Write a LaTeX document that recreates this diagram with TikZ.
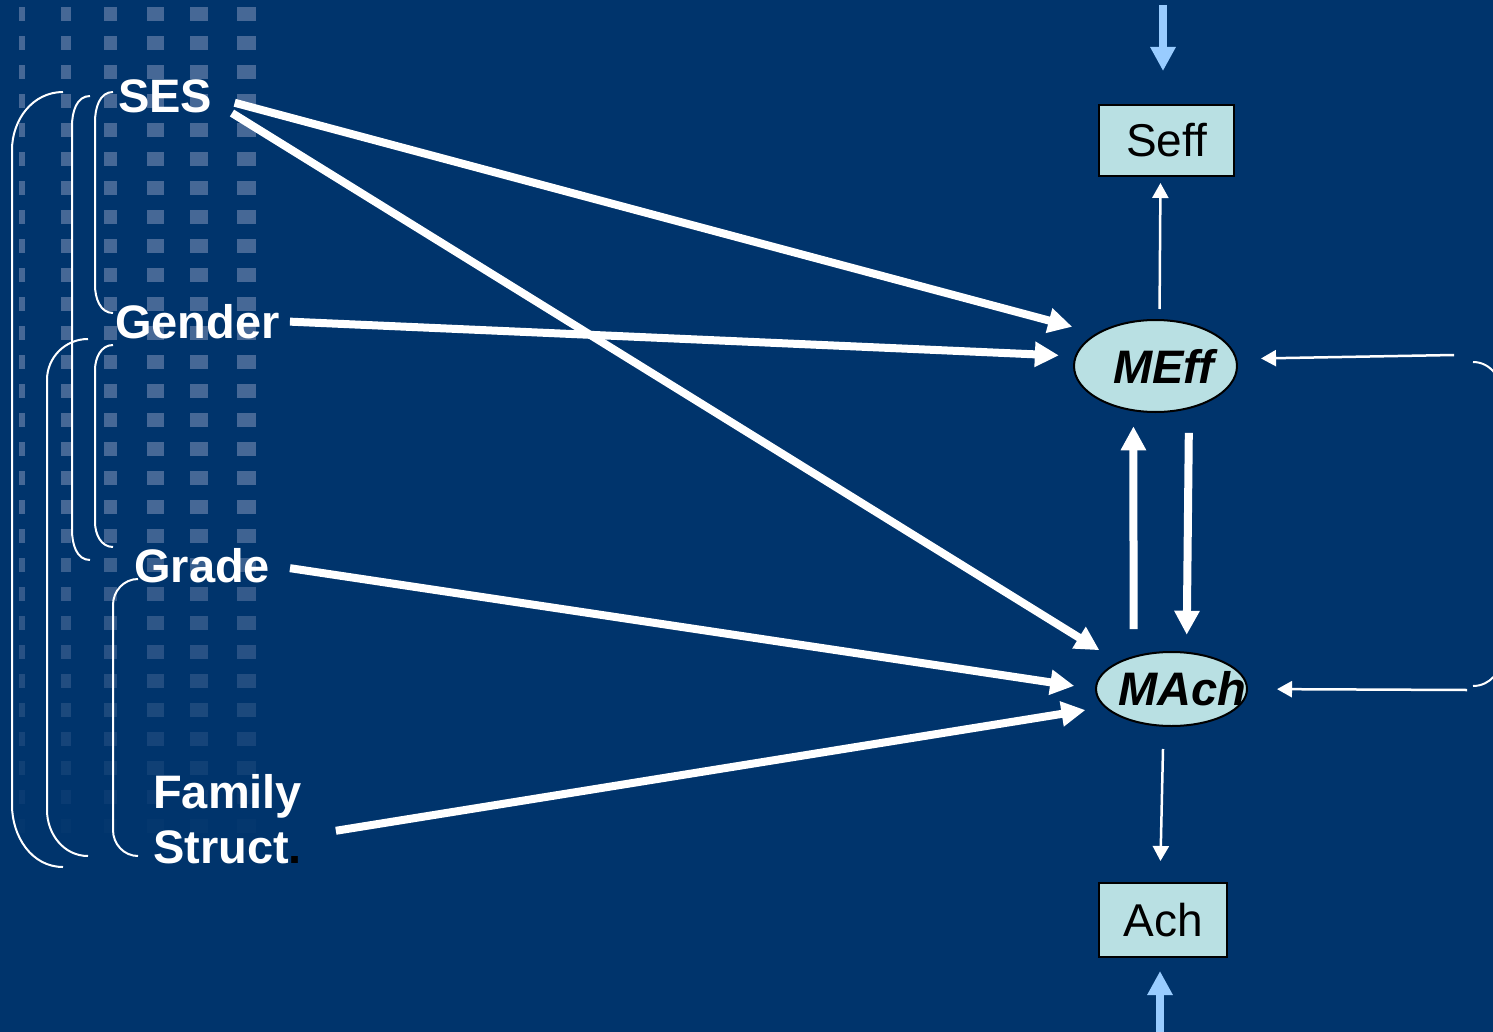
\documentclass[tikz,border=0pt]{standalone}
\usepackage{fontspec}
\setmainfont{Liberation Sans}
\usetikzlibrary{arrows.meta,shapes.geometric}
\definecolor{slidebg}{RGB}{0,52,108}
\definecolor{dotblue}{RGB}{70,104,150}
\definecolor{boxfill}{RGB}{185,224,227}
\definecolor{paleblue}{RGB}{153,204,255}

\begin{document}
\begin{tikzpicture}[x=1pt,y=-1pt]
		\tikzset{
			lab/.style = {font=\fontsize{47}{55}\selectfont\bfseries, text=white, inner sep=0pt, align=left},
			varbox/.style = {rectangle, draw=black, line width=2pt, fill=boxfill, inner sep=0pt, font=\fontsize{46}{55}\selectfont},
			latent/.style = {ellipse, draw=black, line width=2pt, fill=boxfill, inner sep=0pt, font=\fontsize{47}{55}\selectfont\bfseries\itshape},
			brace/.style = {white, line width=2pt},
			fat/.style = {white, line width=8pt, -{Triangle[length=24pt,width=24pt]}},
			slim/.style = {white, line width=2.5pt, -{Triangle[length=15pt,width=16pt]}},
			outside/.style = {paleblue, line width=8pt, -{Triangle[length=24pt,width=24pt]}}
		}
		\useasboundingbox (0,0) rectangle (1493,1032);
		\fill [slidebg] (0,0) rectangle (1493,1032);
		\clip (0,0) rectangle (1493,1032);
		% fading squares on the left
		\foreach \x/\w in {22/6, 66/10, 110/13, 155/17, 199/18, 246/19}
			\foreach \i in {0,...,28} {
				\pgfmathsetmacro\y{7+29*\i}
				\pgfmathsetmacro\op{min(1,max(0,(840-\y)/340))}
				\fill [dotblue, opacity=\op] (\x-\w/2,\y) rectangle (\x+\w/2,\y+14);
			}
		% brackets
		\draw [brace] (63,92) to[out=180,in=90] (12,150) -- (12,805) to[out=-90,in=180] (63,867);
		\draw [brace] (88,339) to[out=180,in=90] (47,380) -- (47,810) to[out=-90,in=180] (88,856);
		\draw [brace] (90,96) to[out=180,in=90] (72,126) -- (72,530) to[out=-90,in=180] (90,560);
		\draw [brace] (113,92) to[out=180,in=90] (95,122) -- (95,285) to[out=-90,in=180] (113,313);
		\draw [brace] (113,345) to[out=180,in=90] (95,370) -- (95,522) to[out=-90,in=180] (113,547);
		\draw [brace] (138,579) to[out=180,in=90] (113,605) -- (113,830) to[out=-90,in=180] (138,856);
		\draw [brace] (1473,362) to[out=0,in=90] (1502,395) -- (1502,655) to[out=-90,in=0] (1473,686);
		% labels
		\node [lab, anchor=base west] (ses) at (118,113) {SES};
		\node [lab, anchor=base west] (gender) at (115,338) {Gender};
		\node [lab, anchor=base west] (grade) at (134,582) {Grade};
		\node [lab, anchor=north west] (family) at (153,774) {Family\\Struct{\color{black}.}};
		% model
		\node [varbox, minimum width=135pt, minimum height=71pt] (seff) at (1166.5,140.5) {Seff};
		\node [latent, minimum width=163pt, minimum height=92pt] (meff) at (1155.5,366) {\makebox[0pt]{\hspace*{16pt}MEff}};
		\node [latent, minimum width=151pt, minimum height=74pt] (mach) at (1171.5,689) {\makebox[0pt]{\hspace*{22pt}MAch}};
		\node [varbox, minimum width=128pt, minimum height=74pt] (ach) at (1163,920) {Ach};
		\coordinate (seffin) at (1163,5);
		\coordinate (achin) at (1160,1040);
		\coordinate (effback) at (1454,355);
		\coordinate (achback) at (1467,690);
		\draw [fat, shorten <=23pt, shorten >=25pt] (ses.east) -- (meff.151);
		\draw [fat, shorten <=23pt, shorten >=22pt] (ses.-5) -- (mach.153);
		\draw [fat, shorten <=10pt, shorten >=16pt] (gender.east) -- (meff.173);
		\draw [fat, shorten <=20pt, shorten >=21pt] (grade.east) -- (mach.west);
		\draw [fat, shorten <=34pt, shorten >=19pt] (family.-13) -- (mach.195);
		\draw [fat, shorten <=27pt, shorten >=15pt] (mach.139) -- (meff.244);
		\draw [fat, shorten <=24pt, shorten >=17pt] (meff.-52) -- (mach.68);
		\draw [slim, shorten <=10pt, shorten >=6pt] ([xshift=4pt]meff.north) -- ([xshift=-6pt]seff.south);
		\draw [slim, shorten <=22pt, shorten >=21pt] ([xshift=-8pt]mach.south) -- ([xshift=-3pt]ach.north);
		\draw [slim, shorten >=24pt] (effback) -- (meff.5);
		\draw [slim, shorten >=29pt] (achback) -- (mach.east);
		\draw [outside, shorten >=33pt] (seffin) -- ([xshift=-3.5pt]seff.north);
		\draw [outside, shorten >=13pt] (achin) -- ([xshift=-3pt]ach.south);
\end{tikzpicture}
\end{document}
